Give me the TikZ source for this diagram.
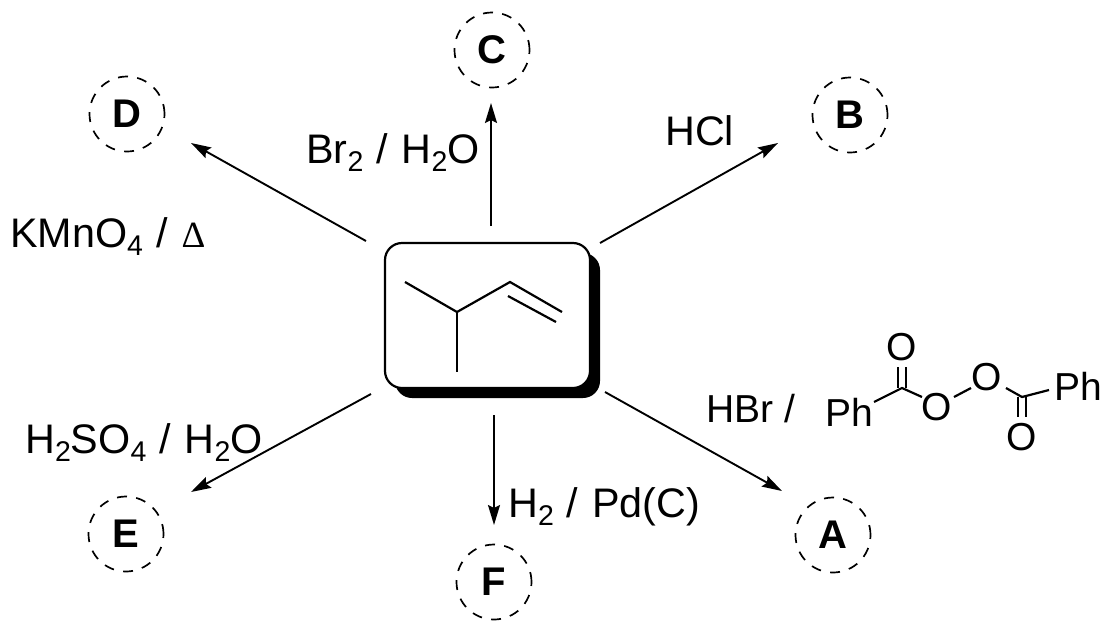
\documentclass[tikz,border=0pt]{standalone}
\usepackage{fontspec}
\setmainfont{Liberation Sans}
\newfontfamily\deltafont{Liberation Serif}
\usetikzlibrary{arrows.meta,calc}
\newcommand{\subs}[1]{\raisebox{-8pt}{\fontsize{28.5}{30}\selectfont #1}}
\newcommand{\sepr}{\hspace{13pt}/\hspace{14pt}}
\tikzset{
  x=1pt,y=-1pt,
  lbl/.style={anchor=base west,inner sep=0pt,font=\fontsize{41.3}{43}\selectfont},
  lblsmall/.style={anchor=base west,inner sep=0pt,font=\fontsize{39}{41}\selectfont},
  atom/.style={anchor=center,inner sep=0pt,font=\fontsize{39}{41}\selectfont},
  prod/.style={circle,draw,dash pattern=on 10pt off 9.3pt,line width=1.7pt,minimum size=75pt,inner sep=0pt,font=\bfseries\fontsize{40}{42}\selectfont},
  arr/.style={line width=1.9pt,-{Stealth[length=20pt,width=12pt,inset=3pt]}},
  bond/.style={line width=2.2pt},
  core/.style={draw=black,line width=2.2pt,fill=white,rounded corners=17pt,minimum width=205pt,minimum height=145pt,inner sep=0pt},
  shadowbox/.style={fill=black,rounded corners=17pt,minimum width=205pt,minimum height=145pt,inner sep=0pt}
}
\begin{document}
\begin{tikzpicture}
\useasboundingbox (0,0) rectangle (1113,633);
\node[shadowbox] (shade) at (497.5,325.5) {};
\node[core] (box) at (487.5,315.5) {};
% product circles
\node[prod] (C) at (492,50) {C};
\node[prod] (D) at (127,114) {D};
\node[prod] (B) at (850,115) {B};
\node[prod] (E) at (126,534) {E};
\node[prod] (F) at (494,582) {F};
\node[prod] (A) at (833,535) {A};
% reaction arrows
\draw[arr] ($(box)+(-121.5,-74.5)$) -- ($(D)+(64,29)$);
\draw[arr] ($(box)+(3.5,-89.5)$) -- ($(C)+(-1,53)$);
\draw[arr] ($(box)+(112.5,-72.5)$) -- ($(B)+(-72,28)$);
\draw[arr] ($(box)+(117.5,76.5)$) -- ($(A)+(-51,-44)$);
\draw[arr] ($(box)+(6.5,99.5)$) -- ($(F)+(0,-57)$);
\draw[arr] ($(box)+(-116.5,78.5)$) -- ($(E)+(65,-42)$);
% reagents
\node[lbl] (rc) at (306,163) {Br\subs{2}\sepr H\subs{2}O};
\node[lbl] (rb) at (665,145) {HCl};
\node[lbl] (rd) at (10,247) {KMnO\subs{4}\sepr{\deltafont\fontsize{37}{40}\selectfont Δ}};
\node[lbl] (re) at (25,453) {H\subs{2}SO\subs{4}\sepr H\subs{2}O};
\node[lbl] (rf) at (508,517) {H\subs{2}\sepr Pd(C)};
\node[lblsmall] (ra) at (706,422) {HBr\hspace{11pt}/};
% substrate skeleton
\coordinate (m1) at (405,282);
\coordinate (ch) at (457,312);
\coordinate (m2) at (457,372);
\coordinate (v1) at (510,282);
\coordinate (v2) at (562,312);
\coordinate (d1) at (508,296);
\coordinate (d2) at (556,322);
\draw[bond] (m1) -- (ch) -- (v1) -- (v2);
\draw[bond] (ch) -- (m2);
\draw[bond] (d1) -- (d2);
% benzoyl peroxide
\node[lblsmall] (ph1) at (825,426) {Ph};
\node[lblsmall] (ph2) at (1054,400) {Ph};
\node[atom] (o1) at (902,347) {O};
\node[atom] (o2) at (937,407) {O};
\node[atom] (o3) at (987,377) {O};
\node[atom] (o4) at (1022,437) {O};
\coordinate (c1) at (902,388);
\coordinate (c2) at (1022,397);
\draw[bond] ($(ph1.base west)+(49,-24)$) -- (c1) -- ($(o2)+(-15,-10)$);
\draw[bond] ($(o2)+(17,-10)$) -- ($(o3)+(-16,11)$);
\draw[bond] ($(o3)+(19,11)$) -- (c2) -- ($(ph2.base west)+(-5,-10)$);
\draw[bond] ($(c1)+(-4,0)$) -- ($(o1)+(-4,20)$);
\draw[bond] ($(c1)+(4,0)$) -- ($(o1)+(4,20)$);
\draw[bond] ($(c2)+(-4,0)$) -- ($(o4)+(-4,-20)$);
\draw[bond] ($(c2)+(4,0)$) -- ($(o4)+(4,-20)$);
\end{tikzpicture}
\end{document}
